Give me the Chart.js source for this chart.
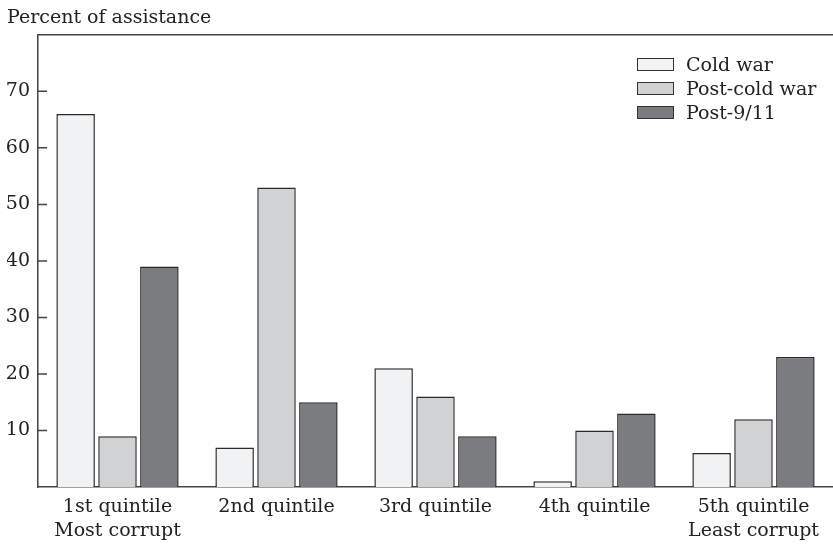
<!DOCTYPE html>
<html>
<head>
<meta charset="utf-8">
<script src="https://cdn.jsdelivr.net/npm/chart.js@4.4.1/dist/chart.umd.min.js"></script>
<style>
  html, body { margin: 0; padding: 0; background: #fff; }
  #wrap { position: relative; width: 833px; height: 546px; }
  #legend { position: absolute; left: 637px; top: 52px; font-family: "DejaVu Serif", serif; font-size: 19px; color: #222; }
  #legend .row { height: 24px; display: flex; align-items: center; }
  #legend .box { width: 35px; height: 11px; border: 1px solid #333; margin-right: 12px; }
</style>
</head>
<body>
<div id="wrap">
  <canvas id="chart" width="833" height="546"></canvas>
  <div id="legend"></div>
</div>
<script>
// 데이터
let categories = [['1st quintile', 'Most corrupt'], ['2nd quintile'], ['3rd quintile'], ['4th quintile'], ['5th quintile', 'Least corrupt']];
let seriesNames = ['Cold war', 'Post-cold war', 'Post-9/11'];
let coldWar = [66, 7, 21, 1, 6];
let postColdWar = [9, 53, 16, 10, 12];
let post911 = [39, 15, 9, 13, 23];
let yTicks = [10, 20, 30, 40, 50, 60, 70];

let fills = ['#f1f2f4', '#d1d2d4', '#7b7c80'];
let fontFamily = '"DejaVu Serif", serif';
let inkColor = '#222';
let axisColor = '#444';

// 안쪽 눈금과 위쪽 테두리
const frame = {
  id: 'frame',
  afterDraw(chart) {
    const ctx = chart.ctx;
    const area = chart.chartArea;
    const y = chart.scales.y;
    ctx.save();
    ctx.strokeStyle = axisColor;
    ctx.lineWidth = 1.5;
    ctx.beginPath();
    ctx.moveTo(area.left, area.top);
    ctx.lineTo(area.right, area.top);
    yTicks.forEach(function (v) {
      const py = y.getPixelForValue(v);
      ctx.moveTo(area.left, py);
      ctx.lineTo(area.left + 9, py);
    });
    ctx.stroke();
    ctx.restore();
  }
};

let datasets = [coldWar, postColdWar, post911].map(function (vals, i) {
  return {
    label: seriesNames[i],
    data: vals,
    backgroundColor: fills[i],
    borderColor: '#2a2a2a',
    borderWidth: 1.5,
    borderSkipped: 'bottom',
    categoryPercentage: 0.79,
    barPercentage: 0.92
  };
});

new Chart(document.getElementById('chart').getContext('2d'), {
  type: 'bar',
  data: { labels: categories, datasets: datasets },
  options: {
    responsive: false,
    animation: false,
    layout: { padding: { left: 7, right: 0, top: 0, bottom: 0 } },
    plugins: {
      legend: { display: false },
      tooltip: { enabled: false },
      title: {
        display: true,
        text: 'Percent of assistance',
        align: 'start',
        color: inkColor,
        font: { family: fontFamily, size: 19, weight: 'normal' },
        padding: { top: 7, bottom: 5 }
      }
    },
    scales: {
      x: {
        afterFit: function (scale) { scale.height = 59; },
        grid: { display: false, drawTicks: false },
        border: { color: axisColor, width: 1.5 },
        ticks: {
          color: inkColor,
          padding: 8,
          maxRotation: 0,
          font: { family: fontFamily, size: 19, lineHeight: 1.25 }
        }
      },
      y: {
        min: 0,
        max: 80,
        afterFit: function (scale) { scale.width = 31; },
        grid: { display: false, drawTicks: false },
        border: { color: axisColor, width: 1.5 },
        ticks: {
          stepSize: 10,
          padding: 8,
          color: inkColor,
          font: { family: fontFamily, size: 19 },
          callback: function (v) { return yTicks.indexOf(v) >= 0 ? v : ''; }
        }
      }
    }
  },
  plugins: [frame]
});

// 범례
let legendEl = document.getElementById('legend');
seriesNames.forEach(function (name, i) {
  let row = document.createElement('div');
  row.className = 'row';
  let box = document.createElement('span');
  box.className = 'box';
  box.style.background = fills[i];
  let txt = document.createElement('span');
  txt.textContent = name;
  row.appendChild(box);
  row.appendChild(txt);
  legendEl.appendChild(row);
});
</script>
</body>
</html>
